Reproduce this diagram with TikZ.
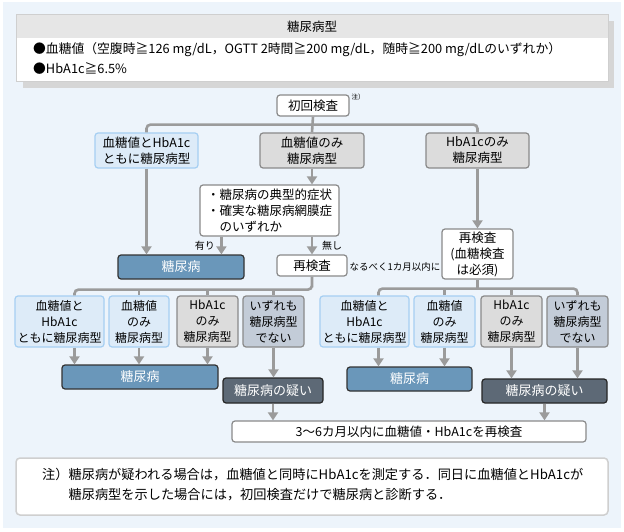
\documentclass[tikz,border=0pt]{standalone}
\usepackage{fontspec}
\setmainfont{Noto Sans CJK JP}
\usetikzlibrary{arrows.meta,calc}
\definecolor{bgblue}{HTML}{EDF4FB}
\definecolor{lbfill}{HTML}{DDEBF8}
\definecolor{lbdraw}{HTML}{A6CFF2}
\definecolor{gyfill}{HTML}{DCDCDC}
\definecolor{gydraw}{HTML}{8A8A8A}
\definecolor{bgyfill}{HTML}{C3CCD8}
\definecolor{dmfill}{HTML}{6A97BA}
\definecolor{susfill}{HTML}{5D6976}
\definecolor{linec}{HTML}{9B9B9B}
\definecolor{hdrc}{HTML}{E6E6E6}
\definecolor{shadowc}{HTML}{D6D6D6}
\definecolor{pborder}{HTML}{CFCFCF}
\newcommand{\fsz}[1]{\fontsize{#1}{16}\selectfont}
\tikzset{
  box/.style={rectangle, rounded corners=3pt, line width=1.2pt, inner sep=0pt, align=center, font=\fsz{12}},
  lbbox/.style={box, fill=lbfill, draw=lbdraw},
  gybox/.style={box, fill=gyfill, draw=gydraw},
  bgybox/.style={box, fill=bgyfill, draw=gydraw},
  whbox/.style={box, fill=white, draw=gydraw},
  dmbox/.style={box, fill=dmfill, draw=black!80, text=white, font=\fsz{13}},
  susbox/.style={box, fill=susfill, draw=black!85, text=white, font=\fsz{13}},
  conn/.style={draw=linec, line width=2.6pt, rounded corners=4pt},
  arr/.style={conn, -{Triangle[width=10pt,length=8pt]}},
  lbl/.style={inner sep=0pt, font=\fsz{10}}
}
\begin{document}
\begin{tikzpicture}[x=1pt,y=-1pt]
\useasboundingbox (0,0) rectangle (624,532);
\fill[bgblue] (3,2) rectangle (621,528);
% title panel
\fill[shadowc] (23,21) rectangle (614,88);
\draw[fill=white, draw=pborder, line width=1pt] (16,15) rectangle (608,82);
\fill[hdrc] (16.5,15.5) rectangle (607.5,38);
\node[inner sep=0pt, font=\fsz{12.5}] (ttl) at (312,27) {糖尿病型};
\node[inner sep=0pt, anchor=west, font=\fsz{12.8}] (crit1) at (33,50) {●血糖値（空腹時≧126 mg/dL，OGTT 2時間≧200 mg/dL，随時≧200 mg/dLのいずれか）};
\node[inner sep=0pt, anchor=west, font=\fsz{12.8}] (crit2) at (33,69) {●HbA1c≧6.5\%};
% first level
\node[whbox, minimum width=72pt, minimum height=21pt, font=\fsz{12.5}] (start) at (313,105.5) {初回検査};
\node[inner sep=0pt, font=\fsz{6.5}] (mark) at (358,97) {注）};
\node[lbbox, minimum width=103pt, minimum height=35pt, font=\fsz{12.5}] (L1) at (146.5,150.5) {血糖値とHbA1c\\ともに糖尿病型};
\node[gybox, minimum width=104pt, minimum height=35pt, font=\fsz{12.5}] (M1) at (312,150.5) {血糖値のみ\\糖尿病型};
\node[gybox, minimum width=103pt, minimum height=35pt, font=\fsz{12.5}] (R1) at (477.5,150.5) {HbA1cのみ\\糖尿病型};
\node[whbox, minimum width=139pt, minimum height=51pt, align=left, font=\fsz{12.5}] (cond) at (269.5,210.5) {・糖尿病の典型的症状\\・確実な糖尿病網膜症\\\hspace*{1em}のいずれか};
\node[dmbox, minimum width=126pt, minimum height=24pt] (dm1) at (181,267) {糖尿病};
\node[whbox, minimum width=70pt, minimum height=21pt, font=\fsz{12.5}] (re1) at (312,265.5) {再検査};
\node[lbl, font=\fsz{9.5}] (soon) at (395,267) {なるべく1カ月以内に};
\node[whbox, minimum width=71pt, minimum height=50pt, font=\fsz{12.5}] (re2) at (477.5,254) {再検査\\(血糖検査\\は必須)};
\node[lbl, anchor=east] (yes) at (215,246) {有り};
\node[lbl, anchor=west] (no) at (322,246) {無し};
% second level, left
\node[lbbox, minimum width=89pt, minimum height=51pt] (La) at (59.5,321.5) {血糖値と\\HbA1c\\ともに糖尿病型};
\node[lbbox, minimum width=60pt, minimum height=51pt] (Lb) at (139,321.5) {血糖値\\のみ\\糖尿病型};
\node[gybox, minimum width=61pt, minimum height=51pt] (Lc) at (207.5,321.5) {HbA1c\\のみ\\糖尿病型};
\node[bgybox, minimum width=61pt, minimum height=51pt] (Ld) at (273.5,321.5) {いずれも\\糖尿病型\\でない};
% second level, right
\node[lbbox, minimum width=89pt, minimum height=51pt] (Ra) at (364.5,321.5) {血糖値と\\HbA1c\\ともに糖尿病型};
\node[lbbox, minimum width=61pt, minimum height=51pt] (Rb) at (444.5,321.5) {血糖値\\のみ\\糖尿病型};
\node[gybox, minimum width=61pt, minimum height=51pt] (Rc) at (511.5,321.5) {HbA1c\\のみ\\糖尿病型};
\node[bgybox, minimum width=61pt, minimum height=51pt] (Rd) at (577.5,321.5) {いずれも\\糖尿病型\\でない};
% results
\node[dmbox, minimum width=156pt, minimum height=24pt] (dmL) at (140,377) {糖尿病};
\node[susbox, minimum width=100pt, minimum height=25pt] (susL) at (273,390.5) {糖尿病の疑い};
\node[dmbox, minimum width=125pt, minimum height=24pt] (dmR) at (409.5,379) {糖尿病};
\node[susbox, minimum width=125pt, minimum height=24pt] (susR) at (544.5,391) {糖尿病の疑い};
\node[whbox, minimum width=354pt, minimum height=21pt, font=\fsz{12.5}] (fin) at (409,431.5) {3〜6カ月以内に血糖値・HbA1cを再検査};
% note panel
\node[rectangle, rounded corners=4pt, fill=white, draw=pborder, line width=1.5pt, minimum width=592pt, minimum height=57pt, inner sep=0pt] (notebox) at (312,486.5) {};
\node[inner sep=0pt, anchor=west, font=\fsz{13.2}] (note1) at (42,475) {注）糖尿病が疑われる場合は，血糖値と同時にHbA1cを測定する．同日に血糖値とHbA1cが};
\node[inner sep=0pt, anchor=west, font=\fsz{13.2}] (note2) at (68.4,495) {糖尿病型を示した場合には，初回検査だけで糖尿病と診断する．};
% connectors level 1
\coordinate (bar1) at ($(start.south)+(0,8)$);
\draw[conn] (L1.north) |- (bar1) -| (R1.north);
\draw[conn] (start.south) -- (M1.north);
\draw[arr] (M1.south) -- (M1.south |- cond.north);
\draw[arr] (L1.south) -- (L1.south |- dm1.north);
\coordinate (yx) at ($(cond.south west)+(22,0)$);
\draw[arr] (yx) -- (yx |- dm1.north);
\draw[arr] (re1.north |- cond.south) -- (re1.north);
\draw[arr] (R1.south) -- (re2.north);
% connectors level 2 left
\coordinate (bar2) at ($(re1.south)+(0,13)$);
\coordinate (xa) at ($(La.north)+(15,0)$);
\draw[conn] (re1.south) |- (bar2) -| (xa);
\draw[conn] (Lb.north |- bar2) -- (Lb.north);
\draw[conn] (Lc.north |- bar2) -- (Lc.north);
\draw[conn] (Ld.north |- bar2) -- (Ld.north);
% connectors level 2 right
\coordinate (bar3) at ($(re2.south)+(0,9)$);
\coordinate (xra) at ($(Ra.north)+(14,0)$);
\draw[conn] (re2.south) -- (bar3);
\draw[conn] (xra) |- (bar3) -| (Rd.north);
\draw[conn] (Rb.north |- bar3) -- (Rb.north);
\draw[conn] (Rc.north |- bar3) -- (Rc.north);
% arrows to results
\coordinate (xas) at ($(La.south)+(15,0)$);
\draw[arr] (xas) -- (xas |- dmL.north);
\draw[arr] (Lb.south) -- (Lb.south |- dmL.north);
\draw[arr] (Lc.south) -- (Lc.south |- dmL.north);
\draw[arr] (Ld.south) -- (Ld.south |- susL.north);
\coordinate (xras) at ($(Ra.south)+(14,0)$);
\draw[arr] (xras) -- (xras |- dmR.north);
\draw[arr] (Rb.south) -- (Rb.south |- dmR.north);
\draw[arr] (Rc.south) -- (Rc.south |- susR.north);
\draw[arr] (Rd.south) -- (Rd.south |- susR.north);
\draw[arr] (susL.south) -- (susL.south |- fin.north);
\draw[arr] (susR.south) -- (susR.south |- fin.north);
\end{tikzpicture}
\end{document}
